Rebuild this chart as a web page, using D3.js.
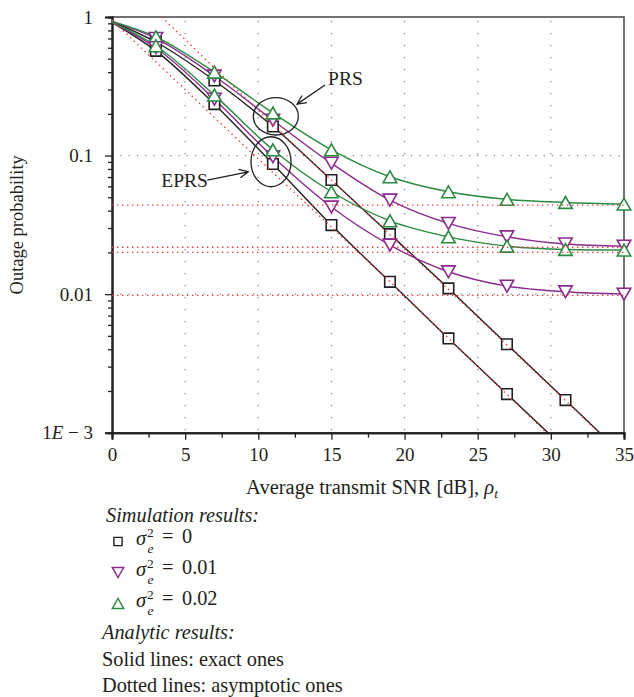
<!DOCTYPE html>
<html><head><meta charset="utf-8">
<script src="https://cdn.jsdelivr.net/npm/d3@7"></script>
<style>
body{margin:0;background:#fff}
svg{display:block}
text{font-family:"Liberation Serif","Times New Roman",serif;fill:#231f20}
</style>
</head><body><svg id="c" width="634" height="697"></svg>
<script>
// ---------------- data ----------------
const snr = [0, 3, 7, 11, 15, 19, 23, 27, 31, 35];
// PRS (upper group)
const prsS0  = [0.93, 0.66, 0.348, 0.162, 0.0666, 0.0271, 0.0110, 0.00435, 0.00172, 0.00068];
const prsS1  = [0.93, 0.70, 0.375, 0.180, 0.0880, 0.0477, 0.0324, 0.0259, 0.0230, 0.0222];
const prsS2  = [0.93, 0.72, 0.400, 0.203, 0.1100, 0.0703, 0.0548, 0.0483, 0.0459, 0.0447];
// EPRS (lower group)
const eprsS0 = [0.915, 0.57, 0.235, 0.087, 0.0315, 0.01227, 0.00479, 0.0019, 0.00076];
const eprsS1 = [0.915, 0.60, 0.255, 0.098, 0.0425, 0.0226, 0.0145, 0.01142, 0.0104, 0.0100];
const eprsS2 = [0.915, 0.62, 0.273, 0.110, 0.0548, 0.0338, 0.0259, 0.0222, 0.0210, 0.0208];
// asymptotes (red dotted)
const floorLevels = [0.0439, 0.0218, 0.0200, 0.0098];
const asymLowX = [0, 9.1, 19, 29.7];
const asymLowY = [0.95, 0.116, 0.0123, 0.001];
const asymUpX  = [3.4, 13.2, 23, 33.3];
const asymUpY  = [1, 0.1, 0.0108, 0.001];
// axes
const xMajor = [0, 5, 10, 15, 20, 25, 30, 35];
const xMinor = [2.5, 7.5, 12.5, 17.5, 22.5, 27.5, 32.5];
const yMajor = [1, 0.1, 0.01, 0.001];
const yLabels = ["1", "0.1", "0.01", "1E \u2212 3"];
const legendVals = ["0", "0.01", "0.02"];

// ---------------- setup ----------------
const L = 112, R = 624, T = 17, B = 432.7;
const svg = d3.select("#c");
const x = d3.scaleLinear().domain([0, 35]).range([L, R]);
const y = d3.scaleLog().domain([0.001, 1]).range([B, T]);

const cBlack = "#231f20", cPurple = "#8d2a8f", cGreen = "#2a8a40", cRed = "#f23a3a", cGrid = "#8a8a8a";

svg.append("defs").append("clipPath").attr("id", "clip")
  .append("rect").attr("x", L).attr("y", T).attr("width", R - L).attr("height", B - T);

// grid
const grid = svg.append("g");
grid.selectAll(".vg").data(xMajor.filter(d => d > 0 && d < 35)).join("line")
  .attr("x1", d => x(d)).attr("x2", d => x(d)).attr("y1", T + 4).attr("y2", B)
  .attr("stroke", cGrid).attr("stroke-width", 1.3).attr("stroke-dasharray", "1.3,10.7");
grid.selectAll(".hg").data([0.1, 0.01]).join("line")
  .attr("x1", L).attr("x2", R).attr("y1", d => y(d)).attr("y2", d => y(d))
  .attr("stroke", cGrid).attr("stroke-width", 1.3).attr("stroke-dasharray", "1.3,7");

// frame top/right
svg.append("path").attr("d", `M${L},${T}H${R}V${B}`).attr("fill", "none")
  .attr("stroke", "#444").attr("stroke-width", 1.5);

// axes
const xAxisMajor = d3.axisBottom(x).tickValues(xMajor).tickSize(7).tickPadding(8).tickFormat(d3.format("d"));
const xAxisMinor = d3.axisBottom(x).tickValues(xMinor).tickSize(5).tickFormat("");
const gx = svg.append("g").attr("transform", `translate(0,${B})`).call(xAxisMajor);
const gx2 = svg.append("g").attr("transform", `translate(0,${B})`).call(xAxisMinor);
[gx, gx2].forEach(g => {
  g.select(".domain").attr("stroke", cBlack).attr("stroke-width", 2);
  g.selectAll(".tick line").attr("stroke", cBlack).attr("stroke-width", 1.3);
});
gx.selectAll(".tick text").attr("font-size", 19).attr("font-family", "Liberation Serif").attr("fill", cBlack);

const yMinor = [];
[0.001, 0.01, 0.1].forEach(b => { for (let k = 2; k <= 9; k++) yMinor.push(b * k); });
const yAxisMajor = d3.axisLeft(y).tickValues(yMajor).tickSize(7).tickPadding(12)
  .tickFormat((d, i) => yLabels[i]);
const yAxisMinor = d3.axisLeft(y).tickValues(yMinor).tickSize(4).tickFormat("");
const gy = svg.append("g").attr("transform", `translate(${L},0)`).call(yAxisMajor);
const gy2 = svg.append("g").attr("transform", `translate(${L},0)`).call(yAxisMinor);
[gy, gy2].forEach(g => {
  g.select(".domain").attr("stroke", cBlack).attr("stroke-width", 2);
  g.selectAll(".tick line").attr("stroke", cBlack).attr("stroke-width", 1.3);
});
gy.selectAll(".tick text").attr("font-size", 19).attr("font-family", "Liberation Serif").attr("fill", cBlack);
// italic E in 1E-3
gy.selectAll(".tick text").filter(d => d === 0.001).each(function () {
  const t = d3.select(this).text("");
  t.append("tspan").text("1");
  t.append("tspan").attr("font-style", "italic").text("E");
  t.append("tspan").text(" \u2212 3");
});

// ---------------- curves ----------------
const series = [
  { v: prsS0, c: cBlack, m: "sq" }, { v: prsS1, c: cPurple, m: "dn" }, { v: prsS2, c: cGreen, m: "up" },
  { v: eprsS0, c: cBlack, m: "sq" }, { v: eprsS1, c: cPurple, m: "dn" }, { v: eprsS2, c: cGreen, m: "up" }
];
const plot = svg.append("g").attr("clip-path", "url(#clip)");
const line = d3.line().x(d => x(d[0])).y(d => y(d[1])).curve(d3.curveMonotoneX);
series.forEach(s => {
  const pts = s.v.map((v, i) => [snr[i], v]);
  plot.append("path").attr("d", line(pts)).attr("fill", "none")
    .attr("stroke", s.c).attr("stroke-width", 1.4);
});

function markerPath(m, w) {
  const h = w * 0.88;
  if (m === "sq") { const s = w * 0.78 / 2; return `M${-s},${-s}H${s}V${s}H${-s}Z`; }
  if (m === "up") return `M${-w / 2},${h / 2}L${w / 2},${h / 2}L0,${-h / 2}Z`;
  return `M${-w / 2},${-h / 2}L${w / 2},${-h / 2}L0,${h / 2}Z`;
}
const mk = svg.append("g");
series.forEach(s => {
  const pts = s.v.map((v, i) => [snr[i], v]).filter(d => d[0] >= 3 && d[1] >= 0.001);
  mk.selectAll(null).data(pts).join("path")
    .attr("transform", d => `translate(${x(d[0])},${y(d[1])})`)
    .attr("d", markerPath(s.m, 13.5)).attr("fill", "#fff")
    .attr("stroke", s.c).attr("stroke-width", 1.6);
});

// asymptotes
const asy = svg.append("g").attr("clip-path", "url(#clip)");
const lin = d3.line().x(d => x(d[0])).y(d => y(d[1]));
asy.selectAll(".fl").data(floorLevels).join("line")
  .attr("x1", L).attr("x2", R).attr("y1", d => y(d)).attr("y2", d => y(d))
  .attr("stroke", cRed).attr("stroke-width", 1.4).attr("stroke-dasharray", "1.4,3.6");
[[asymLowX, asymLowY], [asymUpX, asymUpY]].forEach(([xs, ys]) => {
  asy.append("path").attr("d", lin(xs.map((v, i) => [v, ys[i]]))).attr("fill", "none")
    .attr("stroke", cRed).attr("stroke-width", 1.4).attr("stroke-dasharray", "1.4,3.6");
});

// ---------------- annotations ----------------
const ann = svg.append("g");
const circles = [{ cx: 11.2, cy: 0.192, rx: 22.5, ry: 18.7 }, { cx: 10.87, cy: 0.0902, rx: 20, ry: 25 }];
ann.selectAll("ellipse").data(circles).join("ellipse")
  .attr("cx", d => x(d.cx)).attr("cy", d => y(d.cy)).attr("rx", d => d.rx).attr("ry", d => d.ry)
  .attr("fill", "none").attr("stroke", cBlack).attr("stroke-width", 1.3);
const arrows = [{ x1: 14.56, y1: 0.323, x2: 12.65, y2: 0.235 }, { x1: 6.51, y1: 0.0666, x2: 9.32, y2: 0.0764 }];
arrows.forEach(a => {
  const X1 = x(a.x1), Y1 = y(a.y1), X2 = x(a.x2), Y2 = y(a.y2);
  const ang = Math.atan2(Y2 - Y1, X2 - X1), len = 10, sp = 0.45;
  ann.append("path").attr("d",
    `M${X1},${Y1}L${X2},${Y2}M${X2 - len * Math.cos(ang - sp)},${Y2 - len * Math.sin(ang - sp)}L${X2},${Y2}L${X2 - len * Math.cos(ang + sp)},${Y2 - len * Math.sin(ang + sp)}`)
    .attr("fill", "none").attr("stroke", cBlack).attr("stroke-width", 1.3);
});
ann.append("text").attr("x", x(14.77)).attr("y", y(0.323)).attr("font-size", 19.5).text("PRS");
ann.append("text").attr("x", x(3.37)).attr("y", y(0.0595)).attr("font-size", 19.5).text("EPRS");

// ---------------- axis titles ----------------
svg.append("text").attr("transform", `translate(22.5,${(T + B) / 2}) rotate(-90)`)
  .attr("text-anchor", "middle").attr("font-size", 18.5).text("Outage probability");
const xt = svg.append("text").attr("x", 372).attr("y", 494).attr("text-anchor", "middle").attr("font-size", 20.5);
xt.append("tspan").text("Average transmit SNR [dB], ");
xt.append("tspan").attr("font-style", "italic").text("\u03C1");
xt.append("tspan").attr("font-style", "italic").attr("font-size", 13.5).attr("dy", 4).text("t");

// ---------------- legend ----------------
const lg = svg.append("g");
lg.append("text").attr("x", 106).attr("y", 522).attr("font-size", 20.3).attr("font-style", "italic").text("Simulation results:");
const rows = [{ m: "sq", c: cBlack }, { m: "dn", c: cPurple }, { m: "up", c: cGreen }];
rows.forEach((r, i) => {
  const cy = 541.5 + i * 31;
  lg.append("path").attr("transform", `translate(118,${cy})`).attr("d", markerPath(r.m, r.m === "sq" ? 10.5 : 11.5))
    .attr("fill", "#fff").attr("stroke", r.c).attr("stroke-width", 1.4);
  lg.append("text").attr("x", 136).attr("y", cy + 3).attr("font-size", 20.5).attr("font-style", "italic").text("\u03C3");
  lg.append("text").attr("x", 147).attr("y", cy - 5).attr("font-size", 13.5).text("2");
  lg.append("text").attr("x", 147.5).attr("y", cy + 11).attr("font-size", 13.5).attr("font-style", "italic").text("e");
  lg.append("text").attr("x", 162).attr("y", cy + 1).attr("font-size", 20.3).text("=");
  lg.append("text").attr("x", 182).attr("y", cy + 1).attr("font-size", 20.3).text(legendVals[i]);
});
lg.append("text").attr("x", 102).attr("y", 639).attr("font-size", 20.3).attr("font-style", "italic").text("Analytic results:");
lg.append("text").attr("x", 102).attr("y", 665.5).attr("font-size", 20.3).text("Solid lines: exact ones");
lg.append("text").attr("x", 102).attr("y", 692).attr("font-size", 20.3).text("Dotted lines: asymptotic ones");
</script>
</body></html>
